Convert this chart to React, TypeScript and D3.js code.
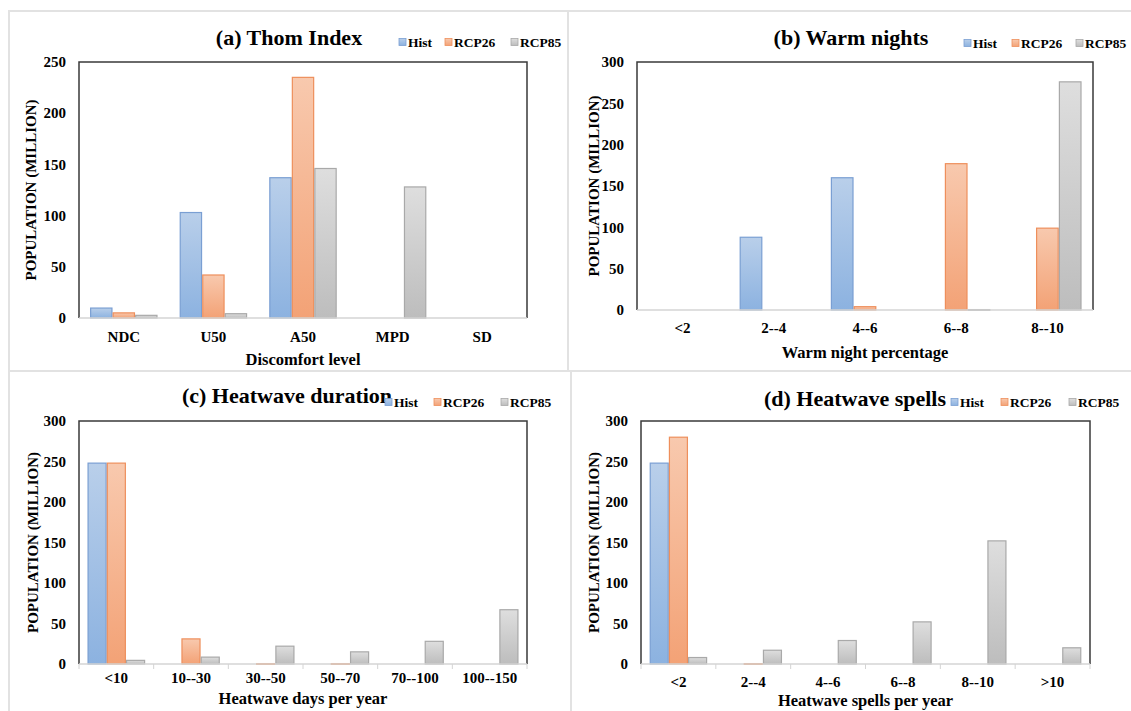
import React from 'react';
import * as d3 from 'd3';

const seriesNames = ['Hist', 'RCP26', 'RCP85'];

// (a) Thom Index
const thomCats = ['NDC', 'U50', 'A50', 'MPD', 'SD'];
const thomHist = [9.7, 103, 137, 0, 0];
const thomRcp26 = [5, 42, 235, 0, 0];
const thomRcp85 = [2.6, 4.2, 146, 128, 0];
const thomTicks = [0, 50, 100, 150, 200, 250];

// (b) Warm nights
const nightCats = ['<2', '2--4', '4--6', '6--8', '8--10'];
const nightHist = [0, 88, 160, 0, 0];
const nightRcp26 = [0, 0, 4, 177, 99];
const nightRcp85 = [0, 0, 0, 0.5, 276];

// (c) Heatwave duration
const durCats = ['<10', '10--30', '30--50', '50--70', '70--100', '100--150'];
const durHist = [248, 0, 0, 0, 0, 0];
const durRcp26 = [248, 31, 0.5, 0.5, 0, 0];
const durRcp85 = [4.5, 8.5, 22, 15, 28, 67];

// (d) Heatwave spells
const spellCats = ['<2', '2--4', '4--6', '6--8', '8--10', '>10'];
const spellHist = [248, 0, 0, 0, 0, 0];
const spellRcp26 = [280, 0.5, 0, 0, 0, 0];
const spellRcp85 = [8, 17, 29, 52, 152, 20];

const popTicks = [0, 50, 100, 150, 200, 250, 300];

const font = '"Liberation Serif", "Times New Roman", serif';
const strokes = ['#7a9fd3', '#ee8f5c', '#a9a9a9'];

interface PanelProps {
  title: string;
  titleX: number;
  titleY: number;
  cats: string[];
  values: number[][];
  ticks: number[];
  box: [number, number, number, number]; // left, top, right, bottom
  barPad: number;
  legendX: number[];
  legendY: number;
  xTickY: number;
  xTitle: string;
  xTitleY: number;
  yTitleX: number;
  catTicks: boolean;
}

const Panel: React.FC<PanelProps> = (p) => {
  const [left, top, right, bottom] = p.box;
  const x0 = d3.scaleBand<string>().domain(p.cats).range([left, right]);
  const x1 = d3.scaleBand<string>()
    .domain(seriesNames)
    .range([0, x0.bandwidth()])
    .paddingOuter(p.barPad);
  const y = d3.scaleLinear().domain([0, p.ticks[p.ticks.length - 1]]).range([bottom, top]);

  return (
    <g>
      {p.cats.map((c, i) => (
        <g key={c} transform={`translate(${x0(c)},0)`}>
          {seriesNames.map((s, k) => {
            const v = p.values[k][i];
            if (!v) return null;
            const h = bottom - y(v);
            return (
              <rect key={s} x={x1(s)! + 0.6} y={y(v)} width={x1.bandwidth() - 1.2} height={Math.max(h, 0.8)}
                fill={`url(#grad${k})`} stroke={strokes[k]} strokeWidth={1.2} />
            );
          })}
        </g>
      ))}
      <path d={`M${left},${bottom}V${top}H${right}V${bottom}`} fill="none" stroke="#3a3a3a" strokeWidth={1.5} />
      <line x1={left} x2={right} y1={bottom} y2={bottom} stroke="#d4d4d4" strokeWidth={1.3} />
      {p.catTicks && d3.range(p.cats.length + 1).map((i) => {
        const xx = left + i * x0.step();
        return <line key={i} x1={xx} x2={xx} y1={bottom} y2={bottom + 5} stroke="#d4d4d4" strokeWidth={1} />;
      })}
      {p.ticks.map((t) => (
        <text key={t} x={left - 13} y={y(t)} dy="0.35em" textAnchor="end" fontSize={15} fontWeight="bold" fontFamily={font}>{t}</text>
      ))}
      {p.cats.map((c) => (
        <text key={c} x={x0(c)! + x0.bandwidth() / 2} y={p.xTickY} dy="0.35em" textAnchor="middle" fontSize={15} fontWeight="bold" fontFamily={font}>{c}</text>
      ))}
      <text x={(left + right) / 2} y={p.xTitleY} dy="0.35em" textAnchor="middle" fontSize={16.5} fontWeight="bold" fontFamily={font}>{p.xTitle}</text>
      <text transform={`translate(${p.yTitleX},${(top + bottom) / 2}) rotate(-90)`} dy="0.35em" textAnchor="middle" fontSize={15} fontWeight="bold" fontFamily={font}>POPULATION (MILLION)</text>
      <text x={p.titleX} y={p.titleY} dy="0.35em" textAnchor="middle" fontSize={22} fontWeight="bold" fontFamily={font}>{p.title}</text>
      {seriesNames.map((s, k) => (
        <g key={s}>
          <rect x={p.legendX[k]} y={p.legendY - 3.5} width={7} height={7} fill={`url(#grad${k})`} stroke={strokes[k]} strokeWidth={0.8} />
          <text x={p.legendX[k] + 9} y={p.legendY} dy="0.35em" fontSize={13.5} fontWeight="bold" fontFamily={font}>{s}</text>
        </g>
      ))}
    </g>
  );
};

const App: React.FC = () => {
  return (
    <svg width={1131} height={711} style={{ position: 'absolute', left: 0, top: 0, background: '#fff' }}>
      <defs>
        <linearGradient id="grad0" x1="0" y1="0" x2="0" y2="1">
          <stop offset="0" stopColor="#b9cfea" />
          <stop offset="1" stopColor="#8cb2e0" />
        </linearGradient>
        <linearGradient id="grad1" x1="0" y1="0" x2="0" y2="1">
          <stop offset="0" stopColor="#f8c9ae" />
          <stop offset="1" stopColor="#f3a276" />
        </linearGradient>
        <linearGradient id="grad2" x1="0" y1="0" x2="0" y2="1">
          <stop offset="0" stopColor="#dedede" />
          <stop offset="1" stopColor="#bdbdbd" />
        </linearGradient>
      </defs>
      <g stroke="#e2e2e2" strokeWidth={2} fill="none">
        <path d="M9,711V11H1131" />
        <line x1={568} x2={568} y1={11} y2={371} />
        <line x1={9} x2={1131} y1={371} y2={371} />
        <line x1={571} x2={571} y1={371} y2={711} />
      </g>
      <Panel title="(a) Thom Index" titleX={289} titleY={37} cats={thomCats}
        values={[thomHist, thomRcp26, thomRcp85]} ticks={thomTicks} box={[79, 62, 527, 318]} barPad={0.49}
        legendX={[399, 445, 511]} legendY={42} xTickY={337} xTitle="Discomfort level" xTitleY={359}
        yTitleX={31} catTicks={false} />
      <Panel title="(b) Warm nights" titleX={851} titleY={37} cats={nightCats}
        values={[nightHist, nightRcp26, nightRcp85]} ticks={popTicks} box={[637, 62, 1093, 310]} barPad={0.5}
        legendX={[964, 1012, 1076]} legendY={43} xTickY={328} xTitle="Warm night percentage" xTitleY={352}
        yTitleX={594} catTicks={false} />
      <Panel title="(c) Heatwave duration" titleX={287} titleY={395} cats={durCats}
        values={[durHist, durRcp26, durRcp85]} ticks={popTicks} box={[79, 421, 527, 664]} barPad={0.44}
        legendX={[385, 434, 501]} legendY={402} xTickY={678} xTitle="Heatwave days per year" xTitleY={698}
        yTitleX={33} catTicks={true} />
      <Panel title="(d) Heatwave spells" titleX={855} titleY={398} cats={spellCats}
        values={[spellHist, spellRcp26, spellRcp85]} ticks={popTicks} box={[641, 421, 1090, 664]} barPad={0.45}
        legendX={[951, 1001, 1069]} legendY={402} xTickY={682} xTitle="Heatwave spells per year" xTitleY={700}
        yTitleX={594} catTicks={true} />
    </svg>
  );
};

export default App;
